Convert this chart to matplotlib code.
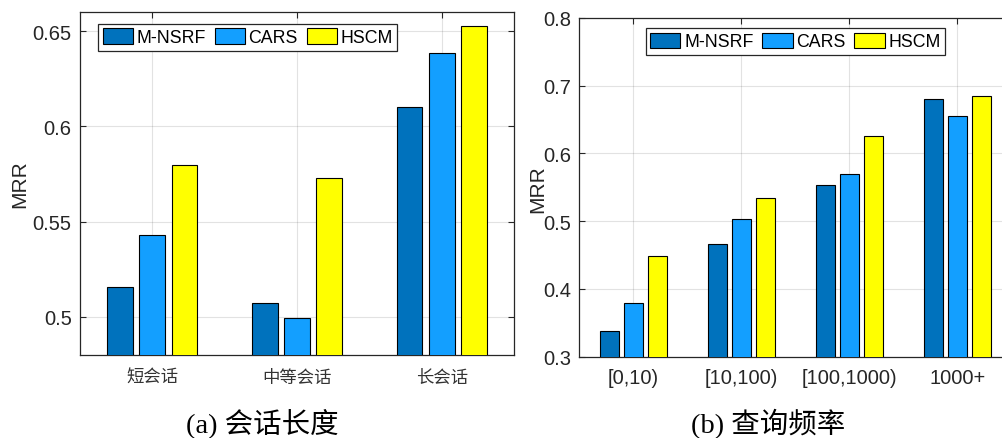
import numpy as np
import matplotlib
matplotlib.use("Agg")
import matplotlib.pyplot as plt

plt.rcParams['font.family'] = ['Liberation Sans', 'Noto Sans CJK SC', 'DejaVu Sans']

# Data
series = ["M-NSRF", "CARS", "HSCM"]
colors = ["#0072BD", "#139FFF", "#FFFF00"]

len_cats = ["短会话", "中等会话", "长会话"]
len_vals = {
    "M-NSRF": [0.5158, 0.5071, 0.6101],
    "CARS":   [0.5431, 0.4996, 0.6384],
    "HSCM":   [0.5795, 0.5730, 0.6526],
}

freq_cats = ["[0,10)", "[10,100)", "[100,1000)", "1000+"]
freq_vals = {
    "M-NSRF": [0.338, 0.466, 0.554, 0.680],
    "CARS":   [0.380, 0.503, 0.569, 0.655],
    "HSCM":   [0.449, 0.534, 0.626, 0.685],
}

W, H = 1003, 439
fig = plt.figure(figsize=(W / 100, H / 100), dpi=100)

ax1 = fig.add_axes([80 / W, (H - 356) / H, 434 / W, 343 / H])
ax2 = fig.add_axes([579.3 / W, (H - 357.7) / H, 432 / W, 338.7 / H])

dark = "#262626"
bw = 0.178
offs = [-0.222, 0.0, 0.222]


def draw(ax, cats, vals, ylim, yticks, yticklabels, cat_font, leg_anchor):
    x = np.arange(1, len(cats) + 1)
    for i, s in enumerate(series):
        ax.bar(x + offs[i], vals[s], width=bw, color=colors[i],
               edgecolor="black", linewidth=0.8, label=s, zorder=3)
    ax.set_xlim(0.5, len(cats) + 0.5)
    ax.set_ylim(*ylim)
    ax.set_xticks(x)
    ax.set_xticklabels(cats, **cat_font)
    ax.set_yticks(yticks)
    ax.set_yticklabels(yticklabels, fontsize=14.5, color=dark)
    ax.tick_params(direction="in", top=True, right=True, length=4,
                   width=0.8, color=dark, pad=6)
    ax.grid(True, color=dark, alpha=0.13, linewidth=0.8, zorder=0)
    ax.set_axisbelow(True)
    for sp in ax.spines.values():
        sp.set_color(dark)
        sp.set_linewidth(0.9)
    leg = ax.legend(ncol=3, loc="upper left", bbox_to_anchor=leg_anchor,
                    fontsize=12.8, frameon=True, fancybox=False,
                    handlelength=1.7, handleheight=0.95, handletextpad=0.2,
                    columnspacing=0.5, borderpad=0.25, borderaxespad=0)
    leg.get_frame().set_edgecolor(dark)
    leg.get_frame().set_linewidth(0.9)
    leg.get_frame().set_alpha(1)


draw(ax1, len_cats, len_vals, (0.48, 0.66),
     [0.5, 0.55, 0.6, 0.65], ["0.5", "0.55", "0.6", "0.65"],
     dict(fontsize=12.5, family=['Noto Sans CJK SC'], color="#333333"),
     (0.042, 0.965))
draw(ax2, freq_cats, freq_vals, (0.3, 0.8),
     [0.3, 0.4, 0.5, 0.6, 0.7, 0.8], ["0.3", "0.4", "0.5", "0.6", "0.7", "0.8"],
     dict(fontsize=14.5, color=dark),
     (0.154, 0.970))
ax1.tick_params(axis="x", pad=9)
ax2.tick_params(axis="x", pad=8)

ax1.set_ylabel("MRR", fontsize=15, color=dark)
ax1.yaxis.set_label_coords((29 - 80) / 434, 0.5)
ax2.set_ylabel("MRR", fontsize=15, color=dark)
ax2.yaxis.set_label_coords((547 - 579.3) / 432, (357.7 - 189) / 338.7)

cap_font = dict(fontsize=20.5, family=['Liberation Serif', 'Noto Sans CJK SC'],
                ha="center", va="center", color="black")
fig.text(262 / W, 1 - 424 / H, "(a) 会话长度", **cap_font)
fig.text(768 / W, 1 - 424 / H, "(b) 查询频率", **cap_font)

fig.savefig("out.png", dpi=100)
